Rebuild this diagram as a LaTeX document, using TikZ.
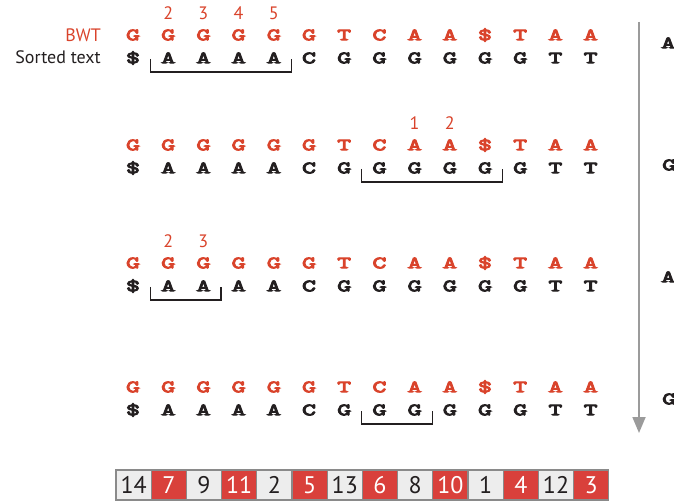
\documentclass[tikz,border=0pt]{standalone}
\usepackage{fontspec}
\setmainfont{PT Sans}
\newfontfamily\seqfont{Latin Modern Mono}[FakeBold=6,FakeStretch=1.6]
\usepackage{tikz}
\usetikzlibrary{arrows.meta,positioning,calc}
\definecolor{BWTRed}{HTML}{D9432B}
\definecolor{CellRed}{HTML}{D9403B}
\definecolor{CellGrey}{HTML}{EDEDED}
\definecolor{CellEdge}{HTML}{8A8A8A}
\definecolor{FlowGrey}{HTML}{9B9B9B}
\definecolor{InkDark}{HTML}{231F20}

\begin{document}
\begin{tikzpicture}[
    x=1pt, y=-1pt,
    bwt/.style={
      font=\fontsize{17}{17}\selectfont\seqfont,
      text=BWTRed,
      inner sep=0pt,
      text height=10.4pt,
      text depth=0pt
    },
    sorted/.style={
      bwt,
      text=InkDark
    },
    idx/.style={
      font=\fontsize{18}{18}\selectfont,
      text=BWTRed,
      inner sep=0pt
    },
    label/.style={
      font=\fontsize{18}{18}\selectfont,
      anchor=east,
      inner sep=0pt
    },
    brk/.style={
      draw=InkDark,
      line width=1.2pt
    },
    flow/.style={
      -{Triangle[length=16pt,width=13pt]},
      line width=1.8pt,
      color=FlowGrey
    },
    plain/.style={
      draw=CellEdge,
      line width=1.3pt,
      fill=CellGrey,
      text=InkDark,
      minimum width=35.2pt,
      minimum height=30pt,
      inner sep=0pt,
      font=\fontsize{24}{24}\selectfont
    },
    hot/.style={
      plain,
      fill=CellRed,
      text=white
    }
  ]

  \useasboundingbox (0,0) rectangle (674,502);

  % the four rounds of the search
  \foreach \r/\y in {1/35, 2/145, 3/263, 4/387} {
    \foreach \ch [count=\i from 0] in {G,G,G,G,G,G,T,C,A,A,\$,T,A,A}
      \node[bwt] (b\r-\i) at ({133+35.2*\i},\y) {\ch};
    \foreach \ch [count=\i from 0] in {\$,A,A,A,A,C,G,G,G,G,G,G,T,T}
      \node[sorted] (s\r-\i) at ({133+35.2*\i},{\y+23}) {\ch};
  }

  \node[label, text=BWTRed] (bwtlab) at (101,35) {BWT};
  \node[label, text=InkDark] (sortlab) at (101,57) {Sorted text};

  % ranks above the BWT
  \foreach \c/\t [count=\k] in {1/2, 2/3, 3/4, 4/5}
    \node[idx] (n1-\k) at ([yshift=22pt]b1-\c.center) {\t};
  \foreach \c/\t [count=\k] in {8/1, 9/2}
    \node[idx] (n2-\k) at ([yshift=22pt]b2-\c.center) {\t};
  \foreach \c/\t [count=\k] in {1/2, 2/3}
    \node[idx] (n3-\k) at ([yshift=22pt]b3-\c.center) {\t};

  % ranges in the sorted text
  \foreach \r/\a/\b in {1/1/4, 2/7/10, 3/1/2, 4/7/8}
    \draw[brk] ([xshift=-17.6pt,yshift=-1pt]s\r-\a.center)
      |- ([xshift=17.6pt,yshift=-14pt]s\r-\b.center)
      -- ([xshift=17.6pt,yshift=-1pt]s\r-\b.center);

  % pattern read backwards
  \node[sorted, anchor=west] (p1) at (661,43) {A};
  \node[sorted, anchor=west] (p2) at (662,165) {G};
  \node[sorted, anchor=west] (p3) at (661,277) {A};
  \node[sorted, anchor=west] (p4) at (662,399) {G};

  \coordinate (ftop) at (639,22);
  \coordinate (fend) at (639,433);
  \draw[flow] (ftop) -- (fend);

  % suffix array
  \foreach \v/\s [count=\i from 0] in {14/plain, 7/hot, 9/plain, 11/hot,
      2/plain, 5/hot, 13/plain, 6/hot, 8/plain, 10/hot, 1/plain, 4/hot,
      12/plain, 3/hot}
    \node[\s] (sa\i) at ({133.6+35.2*\i},485) {\v};

\end{tikzpicture}
\end{document}
